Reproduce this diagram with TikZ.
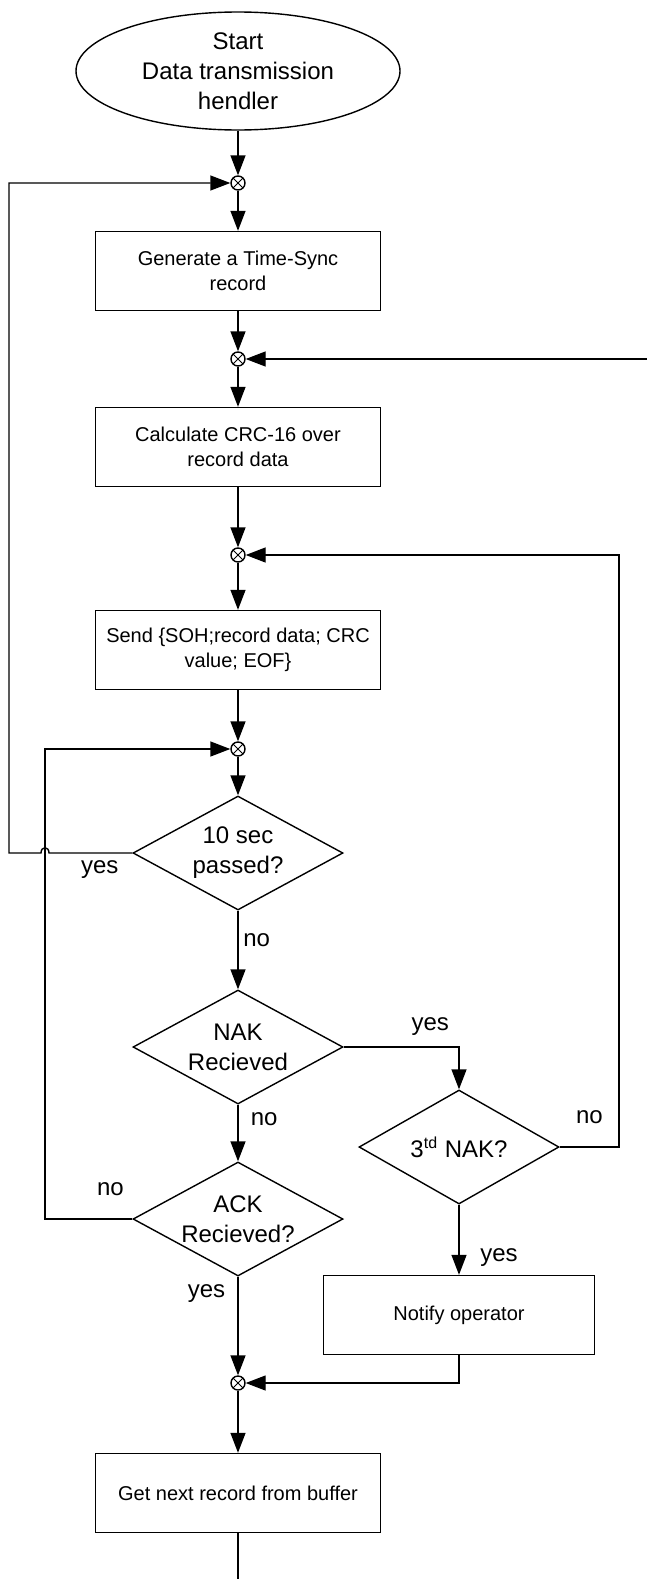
\documentclass[tikz,border=0pt]{standalone}
\usepackage{fontspec}
\setmainfont{Liberation Sans}
\usetikzlibrary{shapes.geometric,arrows.meta}

\begin{document}
\begin{tikzpicture}[x=0.5pt, y=-0.5pt, line width=0.7pt,
  block/.style={draw, rectangle, minimum width=142.5pt, minimum height=39.5pt, align=center, font=\fontsize{10}{12.5}\selectfont},
  decision/.style={draw, diamond, aspect=1.84, inner sep=0pt, minimum width=105pt, minimum height=57pt, align=center, font=\fontsize{12}{15}\selectfont},
  junction/.style={draw, circle, inner sep=0pt, minimum size=7pt, path picture={\draw[line width=0.4pt] (path picture bounding box.north west) -- (path picture bounding box.south east) (path picture bounding box.north east) -- (path picture bounding box.south west);}},
  arr/.style={-{Triangle[length=10pt,width=7.5pt]}},
  lbl/.style={font=\fontsize{12}{14}\selectfont}]
    \useasboundingbox (0,0) rectangle (647,1579);

	% main column
	\node[draw, ellipse, inner sep=0pt, minimum width=162pt, minimum height=59pt, align=center, font=\fontsize{12}{15}\selectfont] (start) at (238,71) {Start\\Data transmission\\hendler};
	\node[junction] (j1) at (238,183) {};
	\node[block] (gensync) at (238,271) {Generate a Time-Sync\\record};
	\node[junction] (j2) at (238,359) {};
	\node[block] (crc) at (238,447) {Calculate CRC-16 over\\record data};
	\node[junction] (j3) at (238,555) {};
	\node[block] (send) at (238,650) {Send \{SOH;record data; CRC\\value; EOF\}};
	\node[junction] (j4) at (238,749) {};
	\node[decision] (timeout) at (238,853) {10 sec\\passed?};
	\node[decision] (nak) at (238,1047) {NAK\\Recieved};
	\node[decision] (ack) at (238,1219) {ACK\\Recieved?};
	\node[junction] (j5) at (238,1383) {};
	\node[block] (getnext) at (238,1493) {Get next record from buffer};

	% right branch
	\node[decision, minimum width=100pt] (third) at (459,1147) {3\textsuperscript{td} NAK?};
	\node[block, minimum width=135.5pt] (notify) at (459,1315) {Notify operator};

	\coordinate (redge) at (647,359);
	\coordinate (bottom) at (238,1579);
	\coordinate (rcorner) at (619,1147);
	\coordinate (lcorner) at (45,1219);
	\coordinate (hopR) at (49,853);
	\coordinate (hopL) at (41,853);
	\coordinate (outer) at (9,853);

	\draw[arr] (start) -- (j1);
	\draw[arr] (j1) -- (gensync);
	\draw[arr] (gensync) -- (j2);
	\draw[arr] (redge) -- (j2);
	\draw[arr] (j2) -- (crc);
	\draw[arr] (crc) -- (j3);
	\draw[arr] (j3) -- (send);
	\draw[arr] (send) -- (j4);
	\draw[arr] (j4) -- (timeout);
	\draw[arr] (timeout) -- node[lbl, right=-1pt, pos=0.375] {no} (nak);
	\draw[arr] (nak) -- node[lbl, right=2.7pt, pos=0.25] {no} (ack);
	\draw[arr] (nak.east) -| node[lbl, above=2.3pt, pos=0.375] {yes} (third.north);
	\draw[arr] (third.south) -- node[lbl, right=7pt, pos=0.75] {yes} (notify.north);
	\draw[arr] (third.east) -- node[lbl, above=8pt] {no} (rcorner) |- (j3);
	\draw[arr] (ack) -- node[lbl, left=2.7pt, pos=0.17] {yes} (j5);
	\draw[arr] (notify.south) |- (j5);
	\draw[arr] (j5) -- (getnext);
	\draw (getnext) -- (bottom);

	% loops back
	\draw[arr] (ack.west) -- node[lbl, above=8pt, pos=0.25] {no} (lcorner) |- (j4);
	\draw[arr] (timeout.west) -- node[lbl, below, pos=0.39] {yes} (hopR) .. controls +(0,-7) and +(0,-7) .. (hopL) -- (outer) |- (j1);
\end{tikzpicture}
\end{document}
